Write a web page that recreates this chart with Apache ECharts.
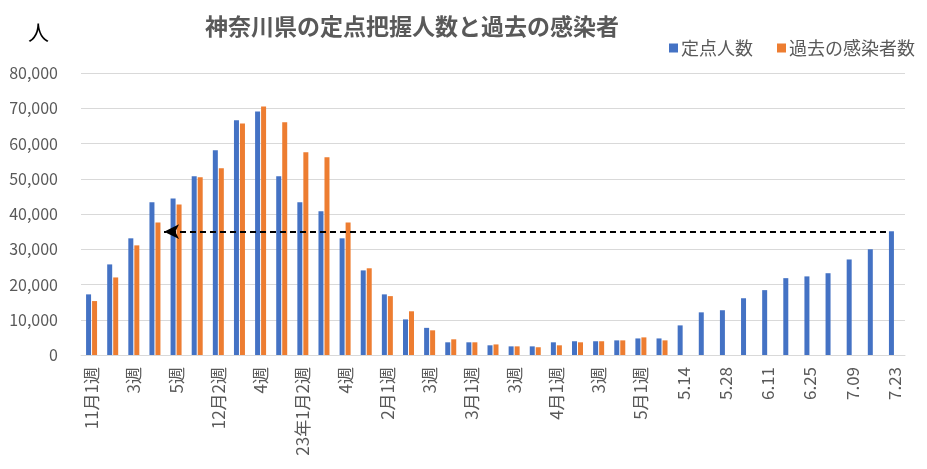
<!DOCTYPE html>
<html style="height: 100%">
<head>
    <meta charset="utf-8">
    <title>神奈川県の定点把握人数と過去の感染者</title>
</head>
<body style="height: 100%; margin: 0; background: #fff">
<div id="container" style="width: 927px; height: 469px"></div>
<script type="text/javascript" src="https://cdn.jsdelivr.net/npm/echarts@6/dist/echarts.min.js"></script>
<script type="text/javascript">
    // 週ごとのカテゴリ（ラベルは1つおきに表示）
    var categories = ['11月1週', '2週', '3週', '4週', '5週', '12月1週', '12月2週', '3週', '4週', '1月1週',
        '23年1月2週', '3週', '4週', '5週', '2月1週', '2週', '3週', '4週', '3月1週', '2週',
        '3週', '4週', '4月1週', '2週', '3週', '4週', '5月1週', '5.07', '5.14', '5.21',
        '5.28', '6.04', '6.11', '6.18', '6.25', '7.02', '7.09', '7.16', '7.23'];
    var teiten = [17200, 25700, 33100, 43300, 44400, 50700, 58100, 66600, 69100, 50700,
        43300, 40800, 33100, 24000, 17200, 10100, 7700, 3600, 3600, 2750,
        2450, 2450, 3600, 3900, 3900, 4150, 4700, 4700, 8400, 12100,
        12700, 16100, 18400, 21800, 22300, 23200, 27100, 30000, 35100];
    var kako = [15300, 22000, 31100, 37600, 42700, 50400, 53000, 65700, 70500, 66000,
        57500, 56100, 37600, 24600, 16700, 12400, 7000, 4450, 3600, 3000,
        2450, 2200, 2750, 3600, 3900, 4150, 5000, 4150, null, null,
        null, null, null, null, null, null, null, null, null];
    // 矢印（カテゴリ幅単位、左端=0）
    var arrowLevel = 35000;
    var arrowFrom = 38.1;
    var arrowTo = 3.93;

    var dom = document.getElementById("container");
    var myChart = echarts.init(dom);
    var font = '"Noto Sans CJK JP", "Noto Sans", sans-serif';

    var option = {
        animation: false,
        textStyle: {fontFamily: font},
        title: {
            text: '神奈川県の定点把握人数と過去の感染者',
            left: 200,
            top: 10,
            textStyle: {fontSize: 23, fontWeight: 'bold', color: '#595959', fontFamily: font}
        },
        graphic: [{
            type: 'text',
            left: 28,
            top: 22,
            style: {text: '人', fontSize: 21, fill: '#000', fontFamily: font}
        }],
        legend: {
            right: 7,
            top: 34,
            itemWidth: 9,
            itemHeight: 9,
            itemGap: 24,
            itemStyle: {borderWidth: 0},
            icon: 'rect',
            textStyle: {fontSize: 18, color: '#595959', fontFamily: font, padding: [0, 0, 0, -2]},
            data: ['定点人数', '過去の感染者数']
        },
        grid: {left: 81, right: 22, top: 73, bottom: 114},
        xAxis: [{
            type: 'category',
            data: categories,
            axisLine: {lineStyle: {color: '#d9d9d9'}},
            axisTick: {show: false},
            axisLabel: {
                interval: 1,
                rotate: 90,
                fontSize: 17,
                color: '#595959',
                margin: 12,
                fontFamily: font
            }
        }, {
            type: 'value',
            min: 0,
            max: categories.length,
            show: false
        }],
        yAxis: {
            type: 'value',
            min: 0,
            max: 80000,
            interval: 10000,
            axisLine: {show: false},
            axisTick: {show: false},
            splitLine: {lineStyle: {color: '#d9d9d9', width: 1}},
            axisLabel: {
                fontSize: 16,
                color: '#595959',
                margin: 23,
                fontFamily: font,
                formatter: function (v) { return v.toLocaleString('en-US'); }
            }
        },
        series: [
            {
                name: '定点人数',
                type: 'bar',
                data: teiten,
                barWidth: 5,
                barGap: '20%',
                itemStyle: {color: '#4472C4'}
            },
            {
                name: '過去の感染者数',
                type: 'bar',
                data: kako,
                barWidth: 5,
                itemStyle: {color: '#ED7D31'}
            },
            {
                name: 'arrow',
                type: 'line',
                xAxisIndex: 1,
                data: [],
                markLine: {
                    silent: true,
                    symbol: ['none', 'arrow'],
                    symbolSize: [11, 15],
                    label: {show: false},
                    lineStyle: {color: '#000', type: [6, 4], width: 2},
                    data: [[
                        {coord: [arrowFrom, arrowLevel]},
                        {coord: [arrowTo, arrowLevel]}
                    ]]
                }
            }
        ]
    };
    myChart.setOption(option, true);
</script>
</body>
</html>
